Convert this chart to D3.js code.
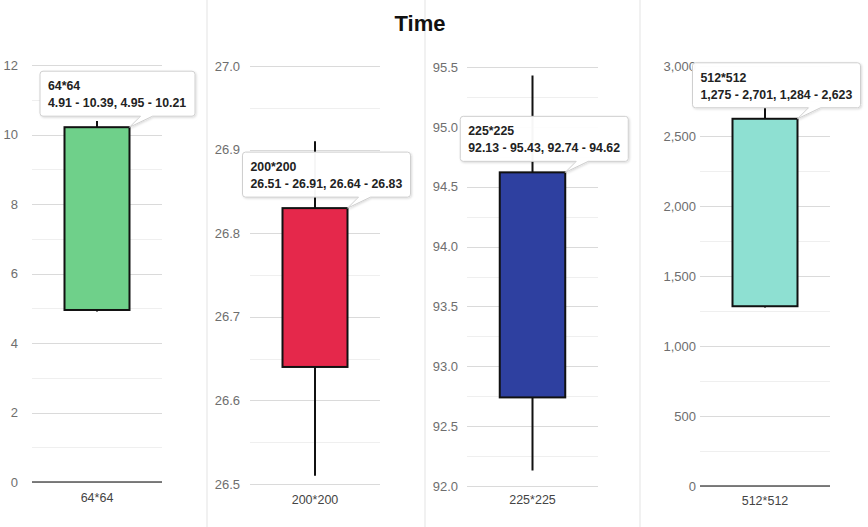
<!DOCTYPE html>
<html><head><meta charset="utf-8">
<script src="https://cdn.jsdelivr.net/npm/d3@7"></script>
<style>
html,body{margin:0;padding:0;background:#fff;}
svg{display:block;font-family:"Liberation Sans",Arial,Helvetica,sans-serif;}
</style></head>
<body>
<svg id="chart" width="868" height="527"></svg>
<script>
// ---- data ----
const title = "Time";
const categories = ["64*64", "200*200", "225*225", "512*512"];
const lows   = [4.91, 26.51, 92.13, 1275];
const highs  = [10.39, 26.91, 95.43, 2701];
const opens  = [4.95, 26.64, 92.74, 1284];
const closes = [10.21, 26.83, 94.62, 2623];
const colors = ["#6fd08a", "#e5284b", "#2e40a0", "#8ee0d2"];
const yDomains = [[0, 12], [26.5, 27.0], [92.0, 95.5], [0, 3000]];
const majorTicks = [
  [0, 2, 4, 6, 8, 10, 12],
  [26.5, 26.6, 26.7, 26.8, 26.9, 27.0],
  [92.0, 92.5, 93.0, 93.5, 94.0, 94.5, 95.0, 95.5],
  [0, 500, 1000, 1500, 2000, 2500, 3000]
];
const minorTicks = [
  [1, 3, 5, 7, 9, 11],
  [26.55, 26.65, 26.75, 26.85, 26.95],
  [92.25, 92.75, 93.25, 93.75, 94.25, 94.75, 95.25],
  [250, 750, 1250, 1750, 2250, 2750]
];
const tickFormats = [d3.format("d"), d3.format(".1f"), d3.format(".1f"), d3.format(",")];
const valueFormats = [d3.format(".2f"), d3.format(".2f"), d3.format(".2f"), d3.format(",.0f")];

// ---- layout ----
const panels = [
  {left: 32,  right: 162, top: 65, bottom: 482, labelX: 18,  catY: 503, baseline: true,  tipLeft: 40},
  {left: 250, right: 380, top: 66, bottom: 484, labelX: 240, catY: 505, baseline: false, tipLeft: null},
  {left: 467, right: 598, top: 67, bottom: 486, labelX: 458, catY: 505, baseline: false, tipLeft: null},
  {left: 700, right: 830, top: 66, bottom: 486, labelX: 696, catY: 506, baseline: true,  tipLeft: null}
];
const separators = [207, 425, 640];

const svg = d3.select("#chart");
const defs = svg.append("defs");
const f = defs.append("filter").attr("id", "shadow").attr("x", "-10%").attr("y", "-10%").attr("width", "130%").attr("height", "140%");
f.append("feDropShadow").attr("dx", 1).attr("dy", 1).attr("stdDeviation", 1.2).attr("flood-color", "#000").attr("flood-opacity", 0.15);

svg.selectAll("line.sep").data(separators).join("line")
  .attr("class", "sep")
  .attr("x1", d => d).attr("x2", d => d)
  .attr("y1", 0).attr("y2", 527)
  .attr("stroke", "#ececec").attr("stroke-width", 1.5);

svg.append("text").attr("x", 420).attr("y", 31)
  .attr("text-anchor", "middle").attr("font-size", 22).attr("font-weight", "bold")
  .attr("fill", "#111").text(title);

const tipLayer = [];

panels.forEach((p, i) => {
  const g = svg.append("g");
  const y = d3.scaleLinear().domain(yDomains[i]).range([p.bottom, p.top]);
  const x = d3.scaleBand().domain([categories[i]]).range([p.left, p.right]).paddingInner(0.5).paddingOuter(0.25);

  g.selectAll("line.minor").data(minorTicks[i]).join("line")
    .attr("x1", p.left).attr("x2", p.right)
    .attr("y1", d => Math.round(y(d)) + 0.5).attr("y2", d => Math.round(y(d)) + 0.5)
    .attr("stroke", "#efefef").attr("stroke-width", 1);
  g.selectAll("line.major").data(majorTicks[i]).join("line")
    .attr("x1", p.left).attr("x2", p.right)
    .attr("y1", d => Math.round(y(d)) + 0.5).attr("y2", d => Math.round(y(d)) + 0.5)
    .attr("stroke", "#dadada").attr("stroke-width", 1);

  const axis = d3.axisLeft(y).tickValues(majorTicks[i]).tickFormat(tickFormats[i]).tickSize(0).tickPadding(0);
  const ag = g.append("g").attr("transform", `translate(${p.labelX},0)`).call(axis);
  ag.select(".domain").remove();
  ag.selectAll("text").attr("font-size", 13).attr("fill", "#6e6e6e")
    .attr("font-family", '"Liberation Sans",Arial,sans-serif');

  if (p.baseline) {
    g.append("line").attr("x1", p.left).attr("x2", p.right)
      .attr("y1", y(yDomains[i][0])).attr("y2", y(yDomains[i][0]))
      .attr("stroke", "#555").attr("stroke-width", 1.5);
  }

  const xa = d3.axisBottom(x).tickSize(0).tickPadding(0);
  const xg = g.append("g").attr("transform", `translate(0,${p.catY - 10})`).call(xa);
  xg.select(".domain").remove();
  xg.selectAll("text").attr("font-size", 12.5).attr("fill", "#444").attr("dy", "0.71em")
    .attr("font-family", '"Liberation Sans",Arial,sans-serif');

  const cx = x(categories[i]) + x.bandwidth() / 2;
  g.append("line").attr("x1", cx).attr("x2", cx)
    .attr("y1", y(highs[i])).attr("y2", y(lows[i]))
    .attr("stroke", "#111").attr("stroke-width", 2);
  const top = y(Math.max(opens[i], closes[i]));
  const bot = y(Math.min(opens[i], closes[i]));
  g.append("rect").attr("x", x(categories[i])).attr("width", x.bandwidth())
    .attr("y", top).attr("height", bot - top)
    .attr("fill", colors[i]).attr("stroke", "#111").attr("stroke-width", 2);

  tipLayer.push({i, anchorX: x(categories[i]) + x.bandwidth(), anchorY: top, tipLeft: p.tipLeft});
});

tipLayer.forEach(t => {
  const i = t.i;
  const vf = valueFormats[i];
  const line2 = `${vf(lows[i])} - ${vf(highs[i])}, ${vf(opens[i])} - ${vf(closes[i])}`;
  const g = svg.append("g");
  const path = g.append("path");
  const l1 = g.append("text").attr("font-size", 12.3).attr("font-weight", "bold").attr("fill", "#222").text(categories[i]);
  const l2 = g.append("text").attr("font-size", 12.3).attr("font-weight", "bold").attr("fill", "#222").text(line2);
  const w = Math.ceil(l2.node().getComputedTextLength()) + 16;
  const h = 45;
  const x0 = t.tipLeft != null ? t.tipLeft : t.anchorX - 105;
  const y0 = t.anchorY - 56;
  l1.attr("x", x0 + 8).attr("y", y0 + 19);
  l2.attr("x", x0 + 8).attr("y", y0 + 36);
  const r = 3, b = y0 + h, ax = t.anchorX, ay = t.anchorY;
  const d = [
    `M${x0 + r},${y0}`, `L${x0 + w - r},${y0}`, `Q${x0 + w},${y0} ${x0 + w},${y0 + r}`,
    `L${x0 + w},${b - r}`, `Q${x0 + w},${b} ${x0 + w - r},${b}`,
    `L${ax + 23},${b}`, `L${ax},${ay}`, `L${ax + 11},${b}`,
    `L${x0 + r},${b}`, `Q${x0},${b} ${x0},${b - r}`, `L${x0},${y0 + r}`, `Q${x0},${y0} ${x0 + r},${y0}`, "Z"
  ].join(" ");
  path.attr("d", d).attr("fill", "rgba(255,255,255,0.96)").attr("stroke", "#cfcfcf").attr("stroke-width", 1)
    .attr("filter", "url(#shadow)");
});
</script>
</body></html>
